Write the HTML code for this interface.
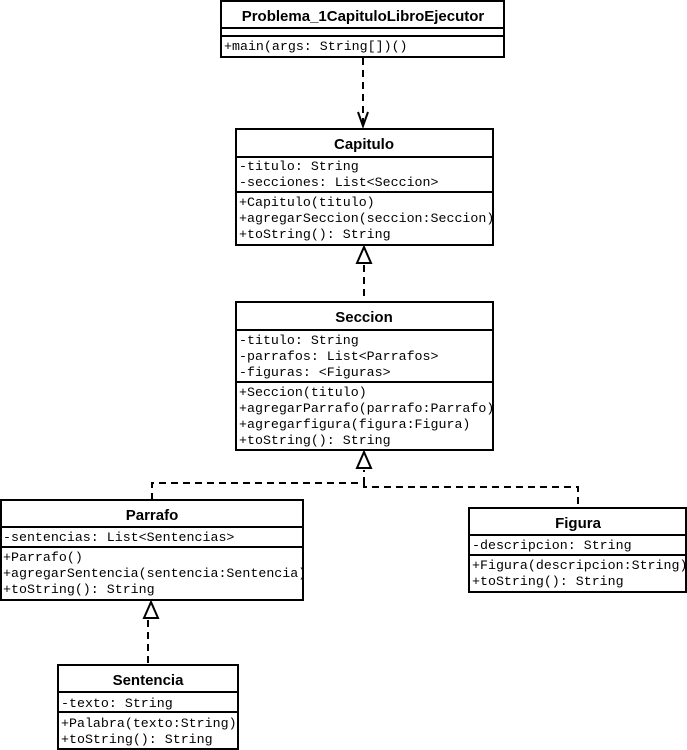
<!DOCTYPE html>
<html><head><meta charset="utf-8"><style>
html,body{margin:0;padding:0;background:#fff;}
svg{display:block;}
.t{font-family:"Liberation Sans",sans-serif;font-weight:bold;font-size:15px;text-anchor:middle;}
.m{font-family:"Liberation Mono",monospace;font-size:13.3px;}
</style></head><body>
<svg width="687" height="750" viewBox="0 0 687 750" xmlns="http://www.w3.org/2000/svg">
<g fill="#fff" stroke="#000" stroke-width="2">
<rect x="221" y="1" width="283" height="56"/>
<line x1="221" y1="28" x2="504" y2="28"/><line x1="221" y1="36" x2="504" y2="36"/>
<rect x="236" y="129" width="257" height="116"/>
<line x1="236" y1="157" x2="493" y2="157"/><line x1="236" y1="192" x2="493" y2="192"/>
<rect x="236" y="302" width="257" height="148"/>
<line x1="236" y1="330" x2="493" y2="330"/><line x1="236" y1="382" x2="493" y2="382"/>
<rect x="1" y="500" width="302" height="100"/>
<line x1="1" y1="527" x2="303" y2="527"/><line x1="1" y1="547" x2="303" y2="547"/>
<rect x="469" y="508" width="217" height="84"/>
<line x1="469" y1="535" x2="686" y2="535"/><line x1="469" y1="555" x2="686" y2="555"/>
<rect x="58" y="665" width="180" height="84"/>
<line x1="58" y1="692" x2="238" y2="692"/><line x1="58" y1="712" x2="238" y2="712"/>
</g>
<g fill="none" stroke="#000" stroke-width="2" stroke-dasharray="7,5">
<line x1="363" y1="58" x2="363" y2="124"/>
<line x1="364" y1="265" x2="364" y2="302"/>
<polyline points="152,500 152,483 364,483 364,470"/>
<polyline points="364,483 364,487 578,487 578,508"/>
<line x1="148" y1="620" x2="148" y2="665"/>
</g>
<g fill="#fff" stroke="#000" stroke-width="2">
<polyline points="358,112 363,126 368,112" fill="none"/>
<polygon points="364,247 357,263 371,263"/>
<polygon points="364,452 357,468 371,468"/>
<polygon points="151,602 144,618 158,618"/>
</g>
<text class="t" x="363" y="21">Problema_1CapituloLibroEjecutor</text>
<text class="m" x="224" y="50">+main(args: String[])()</text>
<text class="t" x="364" y="149">Capitulo</text>
<text class="m" x="239" y="170">-titulo: String</text>
<text class="m" x="239" y="186">-secciones: List&lt;Seccion&gt;</text>
<text class="m" x="239" y="206">+Capitulo(titulo)</text>
<text class="m" x="239" y="222">+agregarSeccion(seccion:Seccion)</text>
<text class="m" x="239" y="238">+toString(): String</text>
<text class="t" x="364" y="322">Seccion</text>
<text class="m" x="239" y="344">-titulo: String</text>
<text class="m" x="239" y="360">-parrafos: List&lt;Parrafos&gt;</text>
<text class="m" x="239" y="376">-figuras: &lt;Figuras&gt;</text>
<text class="m" x="239" y="396">+Seccion(titulo)</text>
<text class="m" x="239" y="412">+agregarParrafo(parrafo:Parrafo)</text>
<text class="m" x="239" y="428">+agregarfigura(figura:Figura)</text>
<text class="m" x="239" y="444">+toString(): String</text>
<text class="t" x="152" y="520">Parrafo</text>
<text class="m" x="3" y="541">-sentencias: List&lt;Sentencias&gt;</text>
<text class="m" x="3" y="561">+Parrafo()</text>
<text class="m" x="3" y="577">+agregarSentencia(sentencia:Sentencia)</text>
<text class="m" x="3" y="593">+toString(): String</text>
<text class="t" x="578" y="528">Figura</text>
<text class="m" x="472" y="549">-descripcion: String</text>
<text class="m" x="472" y="569">+Figura(descripcion:String)</text>
<text class="m" x="472" y="585">+toString(): String</text>
<text class="t" x="148" y="685">Sentencia</text>
<text class="m" x="61" y="707">-texto: String</text>
<text class="m" x="61" y="727">+Palabra(texto:String)</text>
<text class="m" x="61" y="743">+toString(): String</text>
</svg>
</body></html>
